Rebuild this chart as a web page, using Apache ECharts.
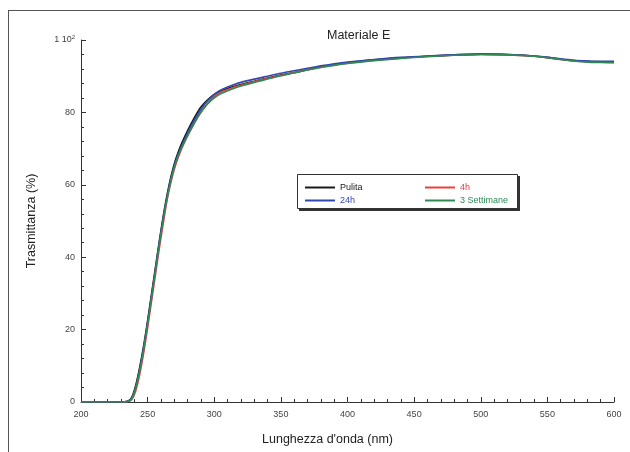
<!DOCTYPE html>
<html>
<head>
<meta charset="utf-8">
<script src="https://cdn.jsdelivr.net/npm/echarts@6/dist/echarts.min.js"></script>
<style>html,body{margin:0;padding:0;background:#fff}#c{width:630px;height:452px}</style>
</head>
<body>
<div id="c"></div>
<script>
const titleText = 'Materiale E';
const xName = "Lunghezza d'onda (nm)";
const yName = 'Trasmittanza (%)';
const seriesNames = ['Pulita', '4h', '24h', '3 Settimane'];
const wavelength = [200, 210, 220, 230, 235, 238, 241, 244, 247, 250, 253, 256, 259, 262, 265, 268, 271, 275, 280, 285, 290, 295, 300, 305, 310, 315, 320, 330, 340, 350, 360, 370, 380, 390, 400, 420, 440, 460, 480, 500, 520, 540, 550, 560, 570, 580, 590, 600];
const pulita =   [0, 0, 0, 0, 0.2, 1.2, 4.5, 9.5, 15.5, 22.5, 30, 37.5, 45, 52, 58, 63, 67, 71, 75, 78.5, 81.5, 83.5, 85, 86, 86.6, 87.2, 87.7, 88.6, 89.5, 90.3, 91, 91.8, 92.6, 93.2, 93.7, 94.5, 95.1, 95.5, 95.9, 96.1, 96.0, 95.6, 95.2, 94.7, 94.3, 94.1, 94.0, 94.0];
const h4 =       [0, 0, 0, 0, 0.1, 0.6, 3.0, 7.5, 13.5, 20.5, 28, 35.5, 43, 50, 56.5, 61.5, 65.5, 69.5, 73.5, 77, 80, 82.5, 84.4, 85.6, 86.3, 87, 87.5, 88.5, 89.4, 90.2, 91, 91.8, 92.5, 93.1, 93.6, 94.4, 95.0, 95.5, 95.8, 96.0, 95.9, 95.5, 95.1, 94.6, 94.2, 94.0, 93.9, 93.8];
const h24 =      [0, 0, 0, 0, 0.2, 1.0, 4.0, 9.0, 15, 22, 29.5, 37, 44.5, 51.5, 57.5, 62.5, 66.5, 70.3, 74.2, 77.8, 80.8, 83.2, 85, 86.2, 87, 87.7, 88.3, 89.2, 90, 90.8, 91.5, 92.2, 92.9, 93.4, 93.9, 94.6, 95.2, 95.6, 95.9, 96.1, 96.0, 95.6, 95.2, 94.8, 94.4, 94.2, 94.1, 94.1];
const settimane3=[0, 0, 0, 0, 0.1, 0.9, 3.8, 8.5, 14.5, 21.5, 29, 36.5, 44, 51, 57, 62, 66, 69.8, 73.6, 77, 80, 82.3, 84, 85.2, 86, 86.7, 87.3, 88.3, 89.2, 90.1, 90.9, 91.7, 92.4, 93, 93.5, 94.3, 94.9, 95.4, 95.8, 96.0, 95.9, 95.5, 95.1, 94.6, 94.2, 93.9, 93.8, 93.7];
const colors = {'Pulita':'#1a1a1a','4h':'#e8403a','24h':'#3048b0','3 Settimane':'#2f8a55'};
const drawOrder = [['Pulita', pulita], ['4h', h4], ['24h', h24], ['3 Settimane', settimane3]];

const font = 'Liberation Sans, Arial, sans-serif';
const chart = echarts.init(document.getElementById('c'));
function legendItem(n){ return {name:n, textStyle:{color:colors[n]}}; }
chart.setOption({
  animation: false,
  backgroundColor: '#fff',
  title: {text: titleText, left: 322, top: 24, textStyle:{fontFamily:font, fontSize:12.5, fontWeight:'normal', color:'#222'}},
  grid: {left: 81, right: 16, top: 40, bottom: 50},
  legend: [
    {orient:'vertical', left:300, top:178, itemWidth:30, itemHeight:2, icon:'rect', itemGap:4, z:6,
     data:[legendItem('Pulita'), legendItem('24h')], textStyle:{fontFamily:font, fontSize:9}},
    {orient:'vertical', left:420, top:178, itemWidth:30, itemHeight:2, icon:'rect', itemGap:4, z:6,
     data:[legendItem('4h'), legendItem('3 Settimane')], textStyle:{fontFamily:font, fontSize:9}}
  ],
  graphic: [
    {type:'line', shape:{x1:8, y1:10.5, x2:630, y2:10.5}, style:{stroke:'#555', lineWidth:1}, silent:true},
    {type:'line', shape:{x1:8.5, y1:10, x2:8.5, y2:452}, style:{stroke:'#555', lineWidth:1}, silent:true},
    {type:'rect', shape:{x:299, y:176, width:221, height:35}, style:{fill:'#333'}, z:5},
    {type:'rect', shape:{x:297.5, y:174.5, width:220, height:34}, style:{fill:'#fff', stroke:'#333', lineWidth:1}, z:5}
  ],
  xAxis: {
    type:'value', min:200, max:600, interval:50,
    name: xName, nameLocation:'middle', nameGap:31,
    nameTextStyle:{fontFamily:font, fontSize:12.5, color:'#222', padding:[0,40,0,0]},
    axisLine:{lineStyle:{color:'#333', width:1}},
    axisTick:{inside:true, length:5, lineStyle:{color:'#333'}},
    minorTick:{show:true, splitNumber:5, length:3, lineStyle:{color:'#333'}},
    axisLabel:{fontFamily:font, fontSize:9, color:'#444', margin:8},
    splitLine:{show:false}
  },
  yAxis: {
    type:'value', min:0, max:100, interval:20,
    name: yName, nameLocation:'middle', nameGap:43, nameRotate:90,
    nameTextStyle:{fontFamily:font, fontSize:12.5, color:'#222'},
    axisLine:{show:true, lineStyle:{color:'#333', width:1}},
    axisTick:{show:true, inside:true, length:5, lineStyle:{color:'#333'}},
    minorTick:{show:true, splitNumber:5, length:3, lineStyle:{color:'#333'}},
    axisLabel:{fontFamily:font, fontSize:9, color:'#444', margin:6,
      formatter: v => v === 100 ? '1 10{s|2}' : String(v),
      rich:{s:{fontSize:6, verticalAlign:'top', padding:[0,0,6,0], fontFamily:font, color:'#444'}}},
    splitLine:{show:false}
  },
  series: drawOrder.map(([n, arr]) => ({
    name:n, type:'line', showSymbol:false, smooth:0.3, color:colors[n],
    lineStyle:{width:1.6, color:colors[n]},
    data: wavelength.map((w,i) => [w, arr[i]])
  }))
});
</script>
</body>
</html>
